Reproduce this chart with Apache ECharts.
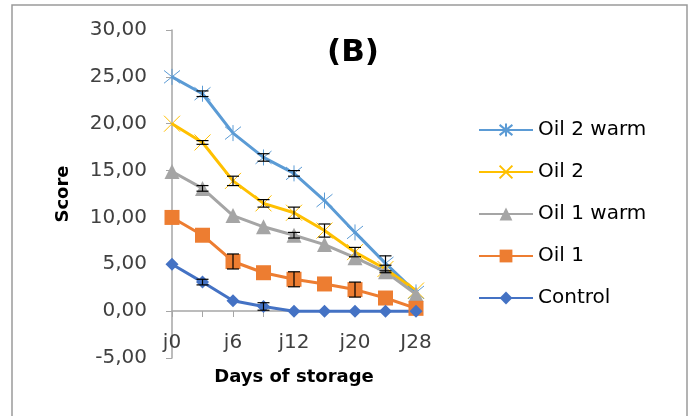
<!DOCTYPE html>
<html>
<head>
<meta charset="utf-8">
<script src="https://cdn.jsdelivr.net/npm/echarts@6/dist/echarts.min.js"></script>
<style>
  html, body { margin: 0; padding: 0; background: #fff; }
  #chart { width: 693px; height: 416px; }
</style>
</head>
<body>
<div id="chart"></div>
<script>
// jours de stockage
const days = ['j0', 'j3', 'j6', 'j9', 'j12', 'j16', 'j20', 'j24', 'J28'];

// scores par traitement
const oil2Warm = [25.0, 23.2, 19.0, 16.4, 14.7, 11.8, 8.4, 5.1, 2.0];
const oil2 = [20.0, 18.0, 13.9, 11.5, 10.5, 8.6, 6.3, 4.5, 2.2];
const oil1Warm = [14.9, 13.1, 10.2, 9.0, 8.1, 7.1, 5.7, 4.2, 1.8];
const oil1 = [10.0, 8.1, 5.3, 4.1, 3.4, 2.9, 2.3, 1.4, 0.3];
const control = [5.0, 3.1, 1.1, 0.5, 0.0, 0.0, 0.0, 0.0, 0.0];

// barres d'erreur (+/-)
const errOil2Warm = [0, 0.3, 0, 0.4, 0.3, 0, 0, 0.8, 0];
const errOil2 = [0, 0.2, 0.5, 0.4, 0.6, 0.7, 0.5, 0.4, 0];
const errOil1Warm = [0, 0.3, 0, 0, 0.3, 0, 0, 0, 0];
const errOil1 = [0, 0, 0.8, 0, 0.8, 0, 0.8, 0, 0];
const errControl = [0, 0.3, 0, 0.4, 0, 0, 0, 0, 0];

const yTicks = [-5, 30, 5]; // min, max, pas

const font = '"DejaVu Sans", sans-serif';
const starPath = 'path://M0,-10L0,10M-8,-8L8,8M-8,8L8,-8';
const crossPath = 'path://M-10,-10L10,10M-10,10L10,-10';

function lineSerie(name, data, color, symbol, size, open) {
  return {
    name: name,
    type: 'line',
    data: data,
    symbol: symbol,
    symbolSize: size,
    z: 3,
    lineStyle: { color: color, width: 3 },
    itemStyle: open
      ? { color: color, borderColor: color, borderWidth: 1 }
      : { color: color },
    emphasis: { disabled: true }
  };
}

function errSerie(vals, errs) {
  const pts = [];
  vals.forEach((v, i) => {
    if (errs[i] > 0) pts.push([i, v - errs[i], v + errs[i]]);
  });
  return {
    type: 'custom',
    z: 4,
    silent: true,
    data: pts,
    renderItem: function (params, api) {
      const lo = api.coord([api.value(0), api.value(1)]);
      const hi = api.coord([api.value(0), api.value(2)]);
      const w = 6;
      const st = { stroke: '#000', lineWidth: 1.2 };
      return {
        type: 'group',
        children: [
          { type: 'line', shape: { x1: lo[0], y1: lo[1], x2: hi[0], y2: hi[1] }, style: st },
          { type: 'line', shape: { x1: lo[0] - w, y1: lo[1], x2: lo[0] + w, y2: lo[1] }, style: st },
          { type: 'line', shape: { x1: hi[0] - w, y1: hi[1], x2: hi[0] + w, y2: hi[1] }, style: st }
        ]
      };
    }
  };
}

const chart = echarts.init(document.getElementById('chart'), null, { renderer: 'canvas' });

const option = {
  backgroundColor: '#fff',
  animation: false,
  textStyle: { fontFamily: font },
  title: {
    text: '(B)',
    left: 348,
    top: 32,
    textAlign: 'center',
    textStyle: { fontFamily: font, fontSize: 31, fontWeight: 'bold', color: '#000' }
  },
  graphic: [{
    type: 'rect',
    shape: { x: 12, y: 5, width: 675, height: 420 },
    style: { fill: 'none', stroke: '#9a9a9a', lineWidth: 1.5 },
    silent: true
  }],
  legend: {
    orient: 'vertical',
    left: 473,
    top: 115,
    itemGap: 22,
    itemWidth: 54,
    itemHeight: 16,
    data: ['Oil 2 warm', 'Oil 2', 'Oil 1 warm', 'Oil 1', 'Control'],
    textStyle: { fontFamily: font, fontSize: 20, color: '#000' }
  },
  grid: { left: 172, width: 244, top: 30, height: 328, outerBoundsMode: 'none' },
  xAxis: {
    type: 'category',
    data: days,
    boundaryGap: false,
    offset: -47,
    name: 'Days of storage',
    nameLocation: 'middle',
    nameGap: 57,
    nameTextStyle: { fontFamily: font, fontSize: 18, fontWeight: 'bold', color: '#000' },
    axisLine: { onZero: false, lineStyle: { color: '#a6a6a6', width: 1.5 } },
    axisTick: { show: true, inside: false, length: 6, interval: 0, lineStyle: { color: '#a6a6a6' } },
    axisLabel: { interval: 1, margin: 22, fontFamily: font, fontSize: 20, color: '#404040' },
    splitLine: { show: false }
  },
  yAxis: {
    type: 'value',
    min: yTicks[0],
    max: yTicks[1],
    interval: yTicks[2],
    name: 'Score',
    nameLocation: 'middle',
    nameGap: 100,
    nameTextStyle: { fontFamily: font, fontSize: 18, fontWeight: 'bold', color: '#000' },
    axisLine: { show: true, lineStyle: { color: '#a6a6a6', width: 1.5 } },
    axisTick: { show: true, length: 6, lineStyle: { color: '#a6a6a6' } },
    axisLabel: {
      margin: 25,
      fontFamily: font,
      fontSize: 20,
      color: '#404040',
      formatter: v => v.toFixed(2).replace('.', ',')
    },
    splitLine: { show: false }
  },
  series: [
    lineSerie('Oil 2 warm', oil2Warm, '#5B9BD5', starPath, 16, true),
    lineSerie('Oil 2', oil2, '#FFC000', crossPath, 16, true),
    lineSerie('Oil 1 warm', oil1Warm, '#A5A5A5', 'triangle', 15, false),
    lineSerie('Oil 1', oil1, '#ED7D31', 'rect', 15, false),
    lineSerie('Control', control, '#4472C4', 'diamond', 13, false),
    errSerie(oil2Warm, errOil2Warm),
    errSerie(oil2, errOil2),
    errSerie(oil1Warm, errOil1Warm),
    errSerie(oil1, errOil1),
    errSerie(control, errControl)
  ]
};

chart.setOption(option);
</script>
</body>
</html>
